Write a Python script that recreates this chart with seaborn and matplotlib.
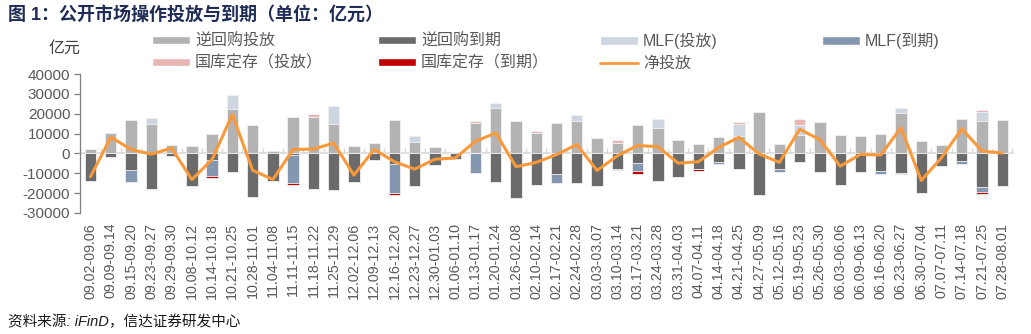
import numpy as np
import pandas as pd
import matplotlib
matplotlib.use("Agg")
import matplotlib.pyplot as plt
from matplotlib.patches import Patch
from matplotlib.lines import Line2D
import seaborn as sns

weeks = ["09.02-09.06", "09.09-09.14", "09.15-09.20", "09.23-09.27", "09.29-09.30",
         "10.08-10.12", "10.14-10.18", "10.21-10.25", "10.28-11.01", "11.04-11.08",
         "11.11-11.15", "11.18-11.22", "11.25-11.29", "12.02-12.06", "12.09-12.13",
         "12.16-12.20", "12.23-12.27", "12.30-01.03", "01.06-01.10", "01.13-01.17",
         "01.20-01.24", "01.26-02.08", "02.10-02.14", "02.17-02.21", "02.24-02.28",
         "03.03-03.07", "03.10-03.14", "03.17-03.21", "03.24-03.28", "03.31-04.03",
         "04.07-04.11", "04.14-04.18", "04.21-04.25", "04.27-05.09", "05.12-05.16",
         "05.19-05.23", "05.26-05.30", "06.03-06.06", "06.09-06.13", "06.16-06.20",
         "06.23-06.27", "06.30-07.04", "07.07-07.11", "07.14-07.18", "07.21-07.25",
         "07.28-08.01"]

rr_release = [2000, 10200, 16600, 14700, 4000, 3700, 9700, 22500, 14100, 1000,
              18100, 18500, 14900, 3700, 5400, 16900, 5700, 3000, 800, 15100,
              23000, 16300, 10400, 15300, 16400, 8000, 5500, 14300, 12800, 6900,
              4900, 8400, 8900, 21000, 4900, 9400, 15900, 9400, 8700, 9700,
              20300, 6500, 4200, 17500, 16400, 16600]
rr_maturity = [-13900, -1800, -8400, -18000, -1300, -16600, -3300, -9500, -22100, -13800,
               -800, -17800, -18600, -14600, -3400, -5200, -16600, -5700, -3000, 0,
               -14600, -22600, -15800, -10400, -14900, -16300, -7700, -4900, -14100, -11700,
               -7700, -4500, -7900, -21000, -7900, -4500, -9200, -15800, -9200, -8600,
               -9700, -20100, -6200, -4000, -17100, -16300]
mlf_release = [0, 0, 0, 3000, 0, 0, 0, 7000, 0, 0,
               0, 0, 8900, 0, 0, 0, 3200, 0, 0, 0,
               2200, 0, 0, 0, 3200, 0, 0, 0, 4700, 0,
               0, 0, 5900, 0, 0, 4900, 0, 0, 0, 0,
               2800, 0, 0, 0, 4400, 0]
mlf_maturity = [0, 0, -6200, 0, 0, 0, -8000, 0, 0, 0,
                -14300, 0, 0, 0, 0, -14800, 0, 0, 0, -10000,
                0, 0, 0, -4700, 0, 0, 0, -4000, 0, 0,
                0, -1000, 0, 0, -1300, 0, 0, 0, 0, -1700,
                0, 0, 0, -1200, -2200, 0]
tre_release = [0, 0, 0, 0, 0, 0, 0, 0, 0, 0,
               0, 1300, 0, 0, 0, 0, 0, 0, 0, 1000,
               0, 0, 800, 0, 0, 0, 1300, 0, 0, 0,
               0, 0, 1200, 0, 0, 2900, 0, 0, 0, 0,
               0, 0, 0, 0, 1000, 0]
tre_maturity = [0, 0, 0, 0, 0, 0, -1200, 0, 0, 0,
                -800, 0, 0, 0, 0, -1000, 0, 0, 0, 0,
                0, 0, 0, 0, 0, 0, -800, -1300, 0, 0,
                -1300, 0, 0, 0, 0, 0, 0, 0, 0, 0,
                -800, 0, 0, 0, -1000, 0]
net = [-11700, 8200, 2000, -400, 2700, -13200, -3000, 19600, -8500, -13100,
       2000, 2200, 5200, -10900, 2000, -4200, -7900, -2900, -2300, 6100,
       10300, -6700, -4500, -600, 4500, -8600, -1200, 4000, 3400, -4900,
       -4200, 3000, 8100, -300, -4500, 12200, 6900, -6400, -500, -800,
       12900, -13600, -2200, 12400, 1200, 200]

legend_names = ["逆回购投放", "逆回购到期", "MLF(投放)", "MLF(到期)",
                "国库定存（投放）", "国库定存（到期）", "净投放"]

C_RR_REL = "#b3b3b3"
C_RR_MAT = "#6b6b6b"
C_MLF_REL = "#cdd5e1"
C_MLF_MAT = "#8497b0"
C_TRE_REL = "#e9b6b6"
C_TRE_MAT = "#c00000"
C_NET = "#f9993a"
TXT = "#595959"

sns.set_theme(style="white")
plt.rcParams["font.family"] = ["Liberation Sans", "Noto Sans CJK SC", "DejaVu Sans"]
plt.rcParams["axes.unicode_minus"] = False

W, H = 1031, 334
fig = plt.figure(figsize=(W / 100, H / 100), dpi=100)
ax = fig.add_axes([80 / W, 1 - 213 / H, (1013 - 80) / W, (213 - 74) / H])

df = pd.DataFrame({
    "week": weeks,
    "rr_rel": rr_release, "mlf_rel": mlf_release, "tre_rel": tre_release,
    "rr_mat": rr_maturity, "mlf_mat": mlf_maturity, "tre_mat": tre_maturity,
    "net": net,
})
df["pos1"] = df["rr_rel"]
df["pos2"] = df["pos1"] + df["mlf_rel"]
df["pos3"] = df["pos2"] + df["tre_rel"]
df["neg1"] = df["rr_mat"]
df["neg2"] = df["neg1"] + df["mlf_mat"]
df["neg3"] = df["neg2"] + df["tre_mat"]

bw = 0.56
layers = [("pos3", C_TRE_REL), ("pos2", C_MLF_REL), ("pos1", C_RR_REL),
          ("neg3", C_TRE_MAT), ("neg2", C_MLF_MAT), ("neg1", C_RR_MAT)]
for col, c in layers:
    sns.barplot(data=df, x="week", y=col, color=c, saturation=1, width=bw,
                errorbar=None, ax=ax, edgecolor="#f2f2f2", linewidth=0.6, zorder=2)

n = len(weeks)
sns.lineplot(x=np.arange(n), y=df["net"].values, color=C_NET, linewidth=2.2,
             ax=ax, zorder=4)

ax.set_xlim(-0.52, n - 0.47)
ax.set_ylim(-30000, 40000)
ax.set_yticks(np.arange(-30000, 40001, 10000))
ax.set_yticklabels([f"{v:d}" for v in range(-30000, 40001, 10000)], fontsize=11, color=TXT)
ax.set_xlabel("")
ax.set_ylabel("")

for s in ["top", "right"]:
    ax.spines[s].set_visible(False)
ax.spines["left"].set_color("#7f7f7f")
ax.spines["left"].set_linewidth(0.9)
ax.spines["bottom"].set_position(("data", 0))
ax.spines["bottom"].set_color("#d9d9d9")
ax.spines["bottom"].set_linewidth(1.2)
ax.spines["bottom"].set_zorder(1)

ax.tick_params(axis="y", which="major", direction="out", length=4, width=0.9,
               color="#7f7f7f", pad=3, left=True)
ax.set_xticks(np.arange(n))
ax.set_xticklabels(weeks, rotation=90, fontsize=10.3, color=TXT)
ax.tick_params(axis="x", which="major", length=0, pad=50, bottom=True)
ax.set_xticks(np.arange(-0.5, n, 1.0), minor=True)
ax.tick_params(axis="x", which="minor", direction="in", length=3.5, width=1,
               color="#d9d9d9", bottom=True)
ax.grid(False)
ax.set_facecolor("white")

# title, unit and source
fig.text(8 / W, 1 - 15 / H, "图 1：公开市场操作投放与到期（单位：亿元）", fontsize=13,
         fontweight="bold", color="#1f2d56", ha="left", va="center")
fig.text(65 / W, 1 - 48 / H, "亿元", fontsize=11.5, color="#404040", ha="center", va="center")
fig.text(8 / W, 1 - 322 / H, "资料来源: iFinD，信达证券研发中心", fontsize=10.5,
         color="#1a1a1a", ha="left", va="center", style="italic")

# legend entries placed on the original grid
handles = [Patch(facecolor=C_RR_REL), Patch(facecolor=C_RR_MAT),
           Patch(facecolor=C_MLF_REL), Patch(facecolor=C_MLF_MAT),
           Patch(facecolor=C_TRE_REL), Patch(facecolor=C_TRE_MAT),
           Line2D([0], [0], color=C_NET, linewidth=2)]
xs = [152, 378, 600, 822, 152, 378, 600]
ys = [41, 41, 41, 41, 63, 63, 63]
for h, lab, x, y in zip(handles, legend_names, xs, ys):
    lg = fig.legend(handles=[h], labels=[lab], loc="center left",
                    bbox_to_anchor=(x / W, 1 - y / H), frameon=False,
                    fontsize=11.5, handlelength=2.4, handleheight=0.45,
                    handletextpad=0.3, borderpad=0, borderaxespad=0)
    for t in lg.get_texts():
        t.set_color(TXT)

fig.savefig("out.png", dpi=100)
